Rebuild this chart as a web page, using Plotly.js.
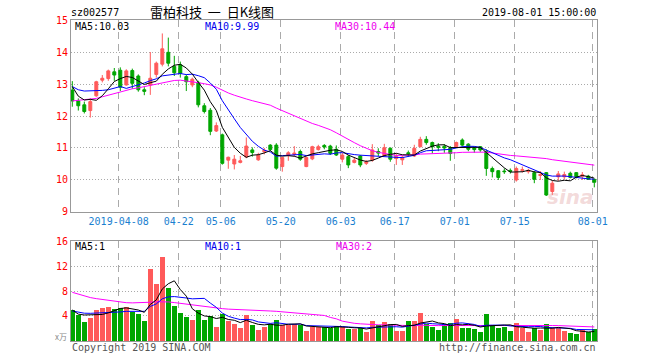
<!DOCTYPE html>
<html><head><meta charset="utf-8">
<script src="https://cdn.plot.ly/plotly-3.0.1.min.js"></script>
<style>html,body{margin:0;padding:0;background:#fff}#chart{width:660px;height:360px}</style>
</head><body><div id="chart"></div>
<script>
// ---- data (index 0 = 2019-03-26, 87 = 2019-08-01) ----
const openP  = [12.81,12.47,12.35,12.17,12.63,13.12,13.17,13.38,13.43,12.97,
                13.42,13.25,12.82,12.97,13.30,13.62,13.99,13.55,13.60,13.23,
                12.97,13.05,12.32,12.18,11.53,11.41,10.62,10.50,10.55,10.72,
                10.94,10.63,10.88,11.09,11.09,10.42,10.77,10.80,10.89,10.42,
                10.66,10.95,11.08,11.06,10.96,10.65,10.73,10.55,10.75,10.52,
                10.62,10.89,10.76,10.99,10.67,10.63,10.85,10.75,11.04,11.27,
                11.17,11.06,11.05,11.01,11.04,11.25,11.12,11.00,11.04,10.89,
                10.36,10.29,10.28,10.30,10.00,10.30,10.26,10.23,10.14,10.23,
                9.64,10.10,10.10,10.21,10.23,10.12,10.12,10.02];
const highP  = [13.09,12.55,12.45,12.55,13.10,13.28,13.45,13.50,13.52,13.46,
                13.48,13.30,12.90,14.00,13.70,14.58,14.45,13.88,13.70,13.30,
                13.20,13.10,12.40,12.25,11.80,11.45,10.73,10.78,10.75,11.33,
                11.02,10.85,11.00,11.12,11.15,10.72,10.90,11.06,10.95,10.72,
                11.07,11.10,11.12,11.10,11.08,10.85,10.78,10.70,10.78,10.62,
                11.12,10.99,11.13,11.02,10.83,10.75,10.92,11.10,11.35,11.37,
                11.20,11.15,11.12,11.06,11.20,11.30,11.15,11.04,11.06,10.96,
                10.42,10.31,10.36,10.36,10.42,10.42,10.35,10.28,10.28,10.25,
                9.98,10.28,10.26,10.26,10.25,10.25,10.16,10.04];
const lowP   = [12.29,12.17,12.08,11.95,12.60,13.05,13.10,13.10,12.78,12.95,
                12.85,12.76,12.65,12.66,13.20,13.55,13.55,13.25,13.20,12.78,
                12.90,12.27,12.08,11.40,11.50,10.48,10.35,10.33,10.52,10.68,
                10.73,10.60,10.80,10.90,10.32,10.26,10.60,10.73,10.60,10.40,
                10.62,10.92,10.96,10.78,10.75,10.55,10.37,10.52,10.40,10.47,
                10.57,10.75,10.73,10.57,10.47,10.47,10.73,10.72,11.02,11.10,
                10.83,10.90,10.85,10.60,11.02,11.04,10.90,10.85,10.88,10.13,
                10.08,10.00,10.19,10.20,9.95,10.23,10.20,9.90,10.00,9.50,
                9.53,9.97,10.02,10.05,10.05,10.00,10.05,9.77];
const closeP = [12.47,12.32,12.14,12.45,13.07,13.18,13.41,13.28,12.90,13.41,
                13.02,12.82,12.77,13.18,13.65,14.10,13.65,13.35,13.33,13.07,
                13.15,12.35,12.14,11.52,11.70,10.52,10.71,10.65,10.60,11.06,
                10.86,10.78,10.93,10.95,10.37,10.70,10.85,10.84,10.65,10.70,
                11.04,11.04,11.03,10.83,10.78,10.78,10.47,10.62,10.47,10.56,
                10.94,10.84,11.01,10.65,10.73,10.71,10.82,10.99,11.27,11.17,
                11.04,11.02,11.00,10.83,11.17,11.09,10.96,10.95,10.94,10.36,
                10.26,10.08,10.26,10.27,10.36,10.32,10.30,10.02,10.17,9.53,
                9.90,10.19,10.17,10.08,10.10,10.16,10.02,9.93];
// volume, 10k shares
const volume = [4.96,4.16,3.09,3.73,4.96,5.28,5.44,5.12,5.23,5.44,
                4.69,4.32,3.25,11.52,9.12,13.44,8.48,5.60,4.53,3.84,
                3.36,4.96,3.36,4.00,2.29,4.32,3.25,2.72,2.13,4.16,
                2.56,1.76,2.29,2.67,3.36,2.56,2.56,2.67,2.56,1.65,
                2.29,2.29,2.29,2.13,2.40,2.29,1.87,1.87,2.03,1.49,
                3.25,2.56,3.09,2.72,1.65,1.65,3.25,3.25,4.53,2.67,
                2.29,1.76,2.67,2.88,3.52,2.13,2.13,1.92,1.49,4.32,
                2.56,2.13,2.29,1.60,2.88,2.13,1.49,2.13,1.76,2.72,
                2.13,2.13,1.60,1.28,1.12,1.76,1.49,1.92];
// moving-average values at the start of the window (history not shown)
const ma5Head  = [12.92,12.62,12.50,12.52];
const ma10Head = [12.92,12.82,12.78,12.78,12.78,12.80,12.82,12.86,12.92];
const ma30Head = [12.47,12.49,12.50,12.52,12.55,12.60,12.65,12.70,12.76,12.81,
                  12.85,12.88,12.92,12.95,13.00,13.04,13.08,13.11,13.12,13.10,
                  13.07,13.04,13.01,12.97,12.90,12.80,12.72,12.65,12.58];
const vma5Head  = [4.96,4.30,4.16,4.16];
const vma10Head = [4.80,4.60,4.45,4.43,4.45,4.50,4.55,4.60,4.65];
const vma30Head = [7.79,7.50,7.20,6.95,6.78,6.65,6.48,6.35,6.22,6.13,
                   6.10,6.10,6.12,6.20,6.28,6.30,6.25,6.15,6.02,5.88,
                   5.76,5.62,5.48,5.36,5.27,5.18,5.10,5.04,4.98];
const tickIdx    = [8,18,25,35,45,54,64,74,87];
const tickLabels = ['2019-04-08','04-22','05-06','05-20','06-03','06-17','07-01','07-15','08-01'];
const priceTicks = [9,10,11,12,13,14,15];
const volTicks   = [4,8,12,16];
const labels = {code:'sz002577', title:'雷柏科技\u00a0\u00a0一\u00a0\u00a0日K线图', time:'2019-08-01 15:00:00',
  ma5:'MA5:10.03', ma10:'MA10:9.99', ma30:'MA30:10.44',
  vma5:'MA5:1', vma10:'MA10:1', vma30:'MA30:2', unit:'x万',
  copy:'Copyright 2019 SINA.COM', url:'http://finance.sina.com.cn'};

// ---- build ----
const idx = closeP.map((_, i) => i);
function ma(src, n, head) {
  return src.map((_, i) => {
    if (i < n - 1) return head[i];
    let s = 0; for (let k = i - n + 1; k <= i; k++) s += src[k];
    return s / n;
  });
}
const RED = '#ff5a5a', GREEN = '#00a600', BLUE = '#0000ff', MAG = '#ff00ff';
const volColors = closeP.map((c, i) => c >= openP[i] ? RED : GREEN);

const traces = [
  {type:'candlestick', x: idx, open: openP, high: highP, low: lowP, close: closeP,
   xaxis:'x', yaxis:'y', whiskerwidth: 0,
   increasing:{line:{color:RED, width:1}, fillcolor:RED},
   decreasing:{line:{color:GREEN, width:1}, fillcolor:GREEN}, hoverinfo:'skip'},
  {type:'scatter', mode:'lines', x: idx, y: ma(closeP,30,ma30Head), line:{color:MAG,width:1}, xaxis:'x', yaxis:'y'},
  {type:'scatter', mode:'lines', x: idx, y: ma(closeP,10,ma10Head), line:{color:BLUE,width:1}, xaxis:'x', yaxis:'y'},
  {type:'scatter', mode:'lines', x: idx, y: ma(closeP,5,ma5Head), line:{color:'#000',width:1}, xaxis:'x', yaxis:'y'},
  {type:'bar', x: idx, y: volume, marker:{color: volColors, line:{width:0}}, width: 0.8, xaxis:'x2', yaxis:'y2'},
  {type:'scatter', mode:'lines', x: idx, y: ma(volume,30,vma30Head), line:{color:MAG,width:1}, xaxis:'x2', yaxis:'y2'},
  {type:'scatter', mode:'lines', x: idx, y: ma(volume,10,vma10Head), line:{color:BLUE,width:1}, xaxis:'x2', yaxis:'y2'},
  {type:'scatter', mode:'lines', x: idx, y: ma(volume,5,vma5Head), line:{color:'#000',width:1}, xaxis:'x2', yaxis:'y2'}
];

const L = 71, R = 597, T = 20, B = 341;
const px = x => (x - L) / (R - L), py = y => (B - y) / (B - T);
const MONO = 'DejaVu Sans Mono';
function ann(text, x, y, xanchor, color, size, family) {
  return {text, x: px(x), y: py(y), xref:'paper', yref:'paper', xanchor, yanchor:'middle',
          showarrow:false, font:{family: family || MONO, size: size || 10, color: color || '#000'}};
}
const xr = [-0.217, 87.45];
const tv = tickIdx.map(i => i - 0.27);
const gridC = '#aaaaaa', lineC = '#999999';
const layout = {
  width:660, height:360, margin:{l:L, r:660-R, t:T, b:360-B},
  paper_bgcolor:'#fff', plot_bgcolor:'#fff', showlegend:false, hovermode:false,
  boxgap: 0.3, bargap: 0,
  xaxis:{domain:[0,1], anchor:'y', range: xr, rangeslider:{visible:false},
         tickmode:'array', tickvals: tv, ticktext: tickLabels, ticks:'',
         tickfont:{family:MONO, size:10, color:'#1a7fd0'},
         showgrid:true, gridcolor:gridC, griddash:'7px,5px', gridwidth:1,
         showline:true, linecolor:lineC, linewidth:1, mirror:true, zeroline:false},
  yaxis:{domain:[0.4019,1], anchor:'x', range:[9,15], tickmode:'array', tickvals: priceTicks,
         ticks:'', tickfont:{family:MONO, size:10, color:'#ff0000'},
         showgrid:true, gridcolor:gridC, griddash:'1px,2px', gridwidth:1,
         showline:true, linecolor:lineC, linewidth:1, mirror:true, zeroline:false},
  xaxis2:{domain:[0,1], anchor:'y2', range: xr, tickmode:'array', tickvals: tv, showticklabels:false, ticks:'',
         showgrid:true, gridcolor:gridC, griddash:'7px,5px', gridwidth:1,
         showline:true, linecolor:lineC, linewidth:1, mirror:true, zeroline:false},
  yaxis2:{domain:[0,0.3115], anchor:'x2', range:[0,16], tickmode:'array', tickvals: volTicks,
         ticks:'', tickfont:{family:MONO, size:10, color:'#ff0000'},
         showgrid:true, gridcolor:gridC, griddash:'1px,2px', gridwidth:1,
         showline:true, linecolor:lineC, linewidth:1, mirror:true, zeroline:false},
  annotations:[
    ann(labels.code, 69, 12.5, 'left'),
    ann(labels.title, 212, 11.5, 'center', '#000', 13, 'Noto Sans CJK SC'),
    ann(labels.time, 598, 12.5, 'right'),
    ann(labels.ma5, 73, 26.5, 'left', '#000'),
    ann(labels.ma10, 203, 26.5, 'left', '#0000ee'),
    ann(labels.ma30, 333, 26.5, 'left', '#ee00ee'),
    ann(labels.vma5, 73, 246.5, 'left', '#000'),
    ann(labels.vma10, 203, 246.5, 'left', '#0000ee'),
    ann(labels.vma30, 334, 246.5, 'left', '#ee00ee'),
    ann(labels.unit, 69, 336, 'right', '#888', 8, 'Noto Sans CJK SC'),
    ann(labels.copy, 70, 347, 'left', '#555'),
    ann(labels.url, 598, 347, 'right', '#555'),
    {text:'<i><b>sina</b></i>', x: px(570), y: py(197), xref:'paper', yref:'paper', xanchor:'center', yanchor:'middle',
     showarrow:false, font:{family:'DejaVu Sans', size:20, color:'rgba(225,160,160,0.4)'}}
  ]
};
Plotly.newPlot('chart', traces, layout, {staticPlot:true, displayModeBar:false});
</script></body></html>
